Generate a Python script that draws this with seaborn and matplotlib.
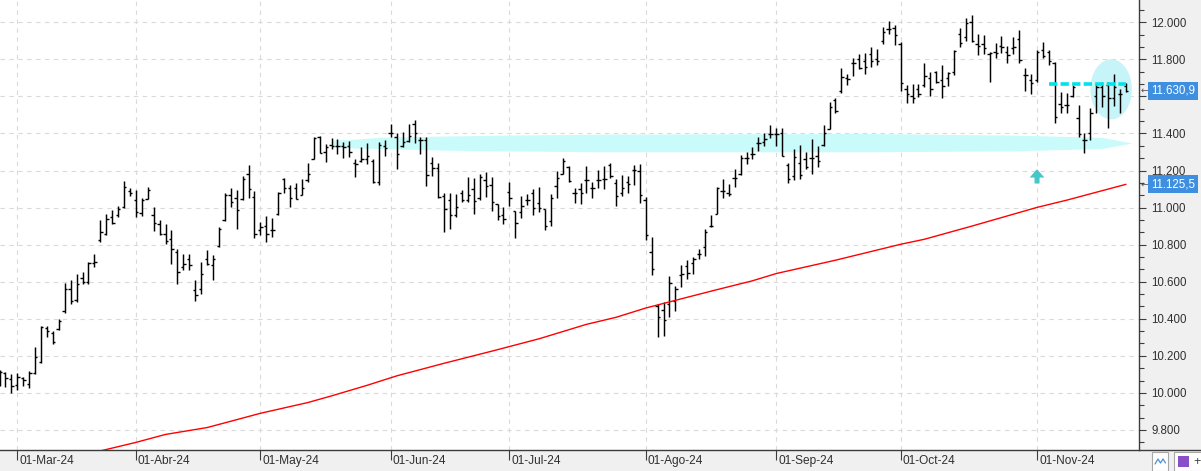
import numpy as np
import pandas as pd
import matplotlib
matplotlib.use("Agg")
import matplotlib.pyplot as plt
from matplotlib.patches import Ellipse, FancyArrow, Rectangle
from matplotlib.ticker import FixedLocator, MultipleLocator, FuncFormatter
from matplotlib.transforms import ScaledTranslation
import seaborn as sns

# trading calendar (BME holidays removed); bars run 27-Feb-24 .. 22-Nov-24
holidays = ["2024-03-29", "2024-04-01", "2024-05-01"]
calendar = pd.bdate_range("2024-02-27", "2024-11-29")
calendar = calendar[~calendar.isin(pd.to_datetime(holidays))]

opens = [
    10060, 10105, 10075, 10045, 10080, 10050, 10110, 10165, 10350, 10325,
    10345, 10440, 10560, 10500, 10620, 10600, 10700, 10825, 10860, 10950,
    10960, 11001, 11090, 11040, 10970, 11045, 10960, 10910, 10860, 10830,
    10760, 10680, 10720, 10554, 10560, 10720, 10690, 10790, 10932, 11070,
    11049, 11044, 11180, 11058, 10880, 10900, 10880, 10968, 11152, 11103,
    11103, 11070, 11150, 11262, 11380, 11300, 11340, 11330, 11330, 11330,
    11240, 11250, 11260, 11250, 11140, 11330, 11400, 11382, 11330, 11360,
    11450, 11364, 11364, 11240, 11211, 11060, 11040, 10960, 11076, 11040,
    11100, 11050, 11150, 11120, 11018, 10960, 11085, 10982, 10977, 11040,
    11080, 11025, 10990, 10928, 11116, 11180, 11220, 11079, 11100, 11148,
    11103, 11150, 11152, 11230, 11130, 11080, 11140, 11202, 11200, 11040,
    10761, 10470, 10450, 10478, 10496, 10635, 10684, 10700, 10752, 10788,
    10900, 10968, 11090, 11080, 11157, 11180, 11265, 11290, 11349, 11355,
    11396, 11396, 11400, 11230, 11170, 11238, 11260, 11265, 11280, 11337,
    11422, 11580, 11630, 11700, 11778, 11800, 11790, 11830, 11800, 11900,
    11962, 11970, 11880, 11640, 11600, 11640, 11660, 11700, 11730, 11690,
    11700, 11730, 11936, 11920, 12000, 11880, 11880, 11830, 11840, 11870,
    11840, 11860, 11908, 11715, 11690, 11690, 11850, 11840, 11780, 11560,
    11553, 11600, 11481, 11364, 11400, 11600, 11649, 11660, 11589, 11612,
    11655,
]
highs = [
    10125, 10113, 10100, 10107, 10086, 10118, 10248, 10360, 10360, 10333,
    10401, 10593, 10608, 10644, 10653, 10707, 10752, 10932, 10964, 10986,
    11008, 11143, 11103, 11094, 11049, 11109, 11004, 10932, 10910, 10878,
    10779, 10752, 10748, 10608, 10704, 10770, 10743, 10893, 11076, 11103,
    11094, 11170, 11229, 11089, 10923, 10954, 10946, 11085, 11157, 11121,
    11134, 11152, 11241, 11382, 11386, 11342, 11373, 11368, 11355, 11360,
    11260, 11328, 11349, 11260, 11355, 11364, 11450, 11400, 11409, 11450,
    11472, 11379, 11379, 11271, 11238, 11079, 11079, 11072, 11094, 11163,
    11157, 11180, 11193, 11163, 11018, 11001, 11139, 10982, 11062, 11072,
    11098, 11109, 10995, 11072, 11198, 11265, 11224, 11103, 11134, 11224,
    11139, 11202, 11224, 11241, 11152, 11175, 11170, 11229, 11234, 11058,
    10842, 10478, 10491, 10630, 10576, 10689, 10716, 10731, 10774, 10887,
    10959, 11109, 11152, 11126, 11206, 11283, 11301, 11328, 11379, 11403,
    11445, 11427, 11427, 11241, 11314, 11337, 11301, 11368, 11332, 11445,
    11571, 11589, 11751, 11720, 11805, 11828, 11835, 11864, 11854, 11973,
    12008, 11985, 11895, 11661, 11666, 11666, 11778, 11733, 11738, 11769,
    11733, 11850, 11967, 12021, 12039, 11936, 11931, 11841, 11886, 11926,
    11872, 11919, 11958, 11751, 11720, 11850, 11895, 11850, 11787, 11625,
    11619, 11661, 11553, 11400, 11535, 11670, 11679, 11679, 11720, 11638,
    11673,
]
lows = [
    10040, 10032, 10000, 10014, 10036, 10029, 10104, 10161, 10302, 10266,
    10342, 10431, 10478, 10491, 10590, 10590, 10677, 10815, 10851, 10910,
    10950, 10998, 11062, 10950, 10956, 11044, 10874, 10851, 10806, 10698,
    10590, 10662, 10662, 10497, 10532, 10689, 10608, 10785, 10928, 11004,
    10887, 11040, 11054, 10834, 10850, 10815, 10842, 10959, 11076, 11004,
    11044, 11067, 11139, 11260, 11292, 11247, 11314, 11288, 11265, 11274,
    11166, 11247, 11234, 11130, 11121, 11278, 11379, 11206, 11325, 11355,
    11349, 11288, 11116, 11170, 11049, 10869, 10882, 10950, 11031, 11031,
    10968, 11040, 11058, 10982, 10932, 10910, 11008, 10838, 10946, 11013,
    10959, 10977, 10878, 10900, 11049, 11180, 11139, 11025, 11018, 11079,
    11049, 11103, 11098, 11157, 11008, 11062, 11076, 11121, 11025, 10825,
    10635, 10299, 10306, 10410, 10442, 10569, 10612, 10644, 10720, 10738,
    10893, 10968, 11054, 11062, 11109, 11175, 11234, 11260, 11306, 11332,
    11373, 11333, 11278, 11134, 11148, 11153, 11206, 11180, 11220, 11332,
    11422, 11508, 11620, 11661, 11710, 11746, 11720, 11760, 11769, 11882,
    11936, 11877, 11630, 11565, 11562, 11598, 11652, 11602, 11670, 11589,
    11656, 11715, 11864, 11900, 11895, 11823, 11828, 11679, 11805, 11832,
    11781, 11828, 11781, 11630, 11612, 11679, 11805, 11769, 11457, 11511,
    11511, 11595, 11379, 11292, 11364, 11511, 11541, 11427, 11548, 11511,
    11625,
]
closes = [
    10111, 10080, 10040, 10086, 10068, 10105, 10195, 10355, 10335, 10275,
    10390, 10560, 10495, 10590, 10600, 10700, 10705, 10866, 10940, 10915,
    10990, 11110, 11076, 10975, 11040, 11095, 10918, 10860, 10820, 10779,
    10653, 10698, 10689, 10527, 10644, 10698, 10720, 10887, 11070, 11031,
    10986, 11152, 11099, 10855, 10895, 10855, 10878, 11080, 11103, 11049,
    11044, 11103, 11180, 11375, 11295, 11328, 11333, 11333, 11328, 11300,
    11234, 11260, 11278, 11140, 11337, 11319, 11403, 11288, 11355, 11386,
    11400, 11364, 11175, 11211, 11058, 10990, 10959, 11004, 11040, 11067,
    11036, 11165, 11119, 11031, 10954, 10941, 11050, 10917, 11010, 11040,
    11000, 11000, 10900, 11050, 11160, 11251, 11144, 11079, 11079, 11148,
    11103, 11148, 11152, 11170, 11060, 11103, 11126, 11202, 11067, 10851,
    10671, 10407, 10392, 10593, 10563, 10640, 10647, 10720, 10752, 10870,
    10900, 11103, 11090, 11075, 11157, 11270, 11265, 11290, 11349, 11370,
    11396, 11396, 11280, 11152, 11274, 11175, 11220, 11265, 11250, 11400,
    11540, 11520, 11703, 11695, 11778, 11751, 11760, 11790, 11790, 11949,
    11962, 11931, 11673, 11612, 11589, 11612, 11710, 11638, 11680, 11656,
    11724, 11846, 11890, 11997, 11900, 11872, 11860, 11835, 11832, 11864,
    11825, 11864, 11795, 11715, 11670, 11840, 11818, 11790, 11490, 11541,
    11553, 11650, 11395, 11364, 11510, 11649, 11600, 11589, 11649, 11612,
    11631,
]

# 200-session moving average, read at a few dates
ma_dates = ["2024-03-21", "2024-04-02", "2024-04-09", "2024-04-18", "2024-04-24",
            "2024-05-02", "2024-05-14", "2024-05-20", "2024-05-28", "2024-06-04",
            "2024-06-14", "2024-06-26", "2024-07-08", "2024-07-18", "2024-07-25",
            "2024-08-01", "2024-08-12", "2024-08-19", "2024-08-27", "2024-09-02",
            "2024-09-16", "2024-10-01", "2024-10-07", "2024-10-17", "2024-11-01",
            "2024-11-08", "2024-11-22"]
ma_values = [9687, 9733, 9776, 9813, 9847, 9890, 9948, 9984, 10041, 10092,
             10160, 10225, 10292, 10370, 10408, 10458, 10516, 10557, 10605, 10644,
             10716, 10802, 10829, 10900, 11001, 11040, 11125.5]

month_dates = ["2024-03-01", "2024-04-02", "2024-05-02", "2024-06-03", "2024-07-01",
               "2024-08-01", "2024-09-02", "2024-10-01", "2024-11-01"]
month_labels = ["01-Mar-24", "01-Abr-24", "01-May-24", "01-Jun-24", "01-Jul-24",
                "01-Ago-24", "01-Sep-24", "01-Oct-24", "01-Nov-24"]
y_ticks = [9800, 10000, 10200, 10400, 10600, 10800, 11000, 11200, 11400, 11600, 11800, 12000]

# drawn annotations (support zone, highlight ellipse, resistance dash, arrow)
zone_dates = ["2024-05-20", "2024-05-24", "2024-05-30", "2024-06-14", "2024-06-28",
              "2024-07-22", "2024-09-23", "2024-10-28", "2024-11-18", "2024-11-25"]
zone_top = [11364, 11369, 11379, 11386, 11391, 11396, 11400, 11391, 11379, 11348]
zone_bottom = [11328, 11321, 11319, 11310, 11306, 11301, 11301, 11306, 11319, 11348]
ellipse_span = ("2024-11-14", "2024-11-25")
ellipse_prices = (11476, 11800)
dash_span = ("2024-11-05", "2024-11-22")
dash_level = 11666
arrow_date = "2024-11-01"
arrow_prices = (11130, 11207)
last_price = 11630.9
last_ma = 11125.5


def xpos(d):
    return calendar.get_loc(pd.Timestamp(d))


def price_label(v, p):
    # the 11.600 level sits under the last-price tag
    if abs(v - 11600) < 1:
        return ""
    return f"{v:,.0f}".replace(",", ".")


sns.set_theme(style="white")
plt.rcParams["font.family"] = ["Liberation Sans", "DejaVu Sans"]

W, H = 1201, 471
fig = plt.figure(figsize=(W / 100, H / 100), dpi=100, facecolor="#f0f0f0")
ax = fig.add_axes([0, 21 / H, 1139 / W, 450 / H], facecolor="white")

n = len(closes)
x = np.arange(n)
o = np.array(opens); h = np.array(highs); l = np.array(lows); c = np.array(closes)

ax.vlines(x, l, h, color="black", lw=1.05, zorder=3)
ax.hlines(o, x - 0.4, x, color="black", lw=1.0, zorder=3)
ax.hlines(c, x, x + 0.4, color="black", lw=1.0, zorder=3)

ma_x = [xpos(d) for d in ma_dates]
sns.lineplot(x=ma_x, y=ma_values, color="#ff0000", lw=1.0, ax=ax,
             estimator=None, sort=False, zorder=3)

# support zone and highlights
zx = [xpos(d) for d in zone_dates]
ax.fill_between(zx, zone_bottom, zone_top, color="#c9fbfb", lw=0, zorder=1)
e0, e1 = xpos(ellipse_span[0]), xpos(ellipse_span[1])
ax.add_patch(Ellipse(((e0 + e1) / 2, sum(ellipse_prices) / 2), e1 - e0,
                     ellipse_prices[1] - ellipse_prices[0],
                     fc="#c6f4f9", ec="none", zorder=1))
ax.plot([xpos(dash_span[0]), xpos(dash_span[1])], [dash_level, dash_level],
        color="#00e3ea", lw=2.6, dashes=(2.3, 0.9), solid_capstyle="butt",
        dash_capstyle="butt", zorder=4)
ax.add_patch(FancyArrow(xpos(arrow_date), arrow_prices[0], 0,
                        arrow_prices[1] - arrow_prices[0], width=0.85,
                        head_width=2.5, head_length=45, length_includes_head=True,
                        fc="#45c6c8", ec="none", zorder=4))

ax.set_xlim(0.08, 192.2)
ax.set_ylim(9692, 12120)

# axes, ticks, grid
for s in ["top", "left"]:
    ax.spines[s].set_visible(False)
for s in ["right", "bottom"]:
    ax.spines[s].set_color("#3c3c3c")
    ax.spines[s].set_linewidth(1.0)

ax.yaxis.tick_right()
ax.yaxis.set_major_locator(FixedLocator(y_ticks))
ax.yaxis.set_minor_locator(MultipleLocator(200 / 3))
ax.yaxis.set_major_formatter(FuncFormatter(price_label))
ax.tick_params(axis="y", which="major", length=5, width=0.8, color="#3c3c3c",
               pad=4, labelsize=8.3, labelcolor="#303030")
ax.tick_params(axis="y", which="minor", length=3.5, width=0.8, color="#3c3c3c", right=True)

ax.set_xticks([xpos(d) for d in month_dates])
ax.set_xticklabels(month_labels)
ax.tick_params(axis="x", length=7, width=0.8, color="#3c3c3c", pad=-3.6,
               labelsize=8.6, labelcolor="#303030", bottom=True)
shift = ScaledTranslation(2 / 100, 0, fig.dpi_scale_trans)
for lbl in ax.get_xticklabels():
    lbl.set_ha("left")
    lbl.set_transform(lbl.get_transform() + shift)

ax.grid(True, which="major", color="#dadada", lw=0.8, linestyle=(0, (4, 4)))
ax.set_axisbelow(True)

# last value tags on the price scale
ytr = ax.get_yaxis_transform()
for val, txt in [(last_price, "11.630,9"), (last_ma, "11.125,5")]:
    ax.text(1151 / 1139, val, txt, transform=ytr, color="white", fontsize=8.3,
            va="center", ha="left", clip_on=False, zorder=6,
            bbox=dict(boxstyle="square,pad=0.26", fc="#3f8fe0", ec="none"))
    ax.text(1140.5 / 1139, val, "\u2190", transform=ytr, color="#505050", fontsize=6.5,
            va="center", ha="left", clip_on=False, zorder=6,
            family=["DejaVu Sans"])

# bottom strip line under the price scale and the two small buttons
fig.add_artist(plt.Line2D([1139 / W, 1], [21 / H, 21 / H], color="#3c3c3c", lw=1.0))
fig.add_artist(Rectangle((1152 / W, 0.5 / H), 16 / W, 18.5 / H, transform=fig.transFigure,
                         fc="white", ec="#a8a8a8", lw=0.8))
fig.add_artist(plt.Line2D([1155 / W, 1158 / W, 1160.5 / W, 1163 / W, 1165.5 / W],
                          [7 / H, 12 / H, 8 / H, 12 / H, 8 / H], color="#4a90d9", lw=0.9))
fig.add_artist(Rectangle((1174 / W, 0.5 / H), 30 / W, 18.5 / H, transform=fig.transFigure,
                         fc="white", ec="#a8a8a8", lw=0.8))
fig.add_artist(Rectangle((1178 / W, 4 / H), 11 / W, 11 / H, transform=fig.transFigure,
                         fc="#8a4fc7", ec="none"))
fig.text(1193 / W, 9.5 / H, "+", fontsize=9, color="#404040", va="center", ha="left")

fig.savefig("out.png", dpi=100, facecolor=fig.get_facecolor())
